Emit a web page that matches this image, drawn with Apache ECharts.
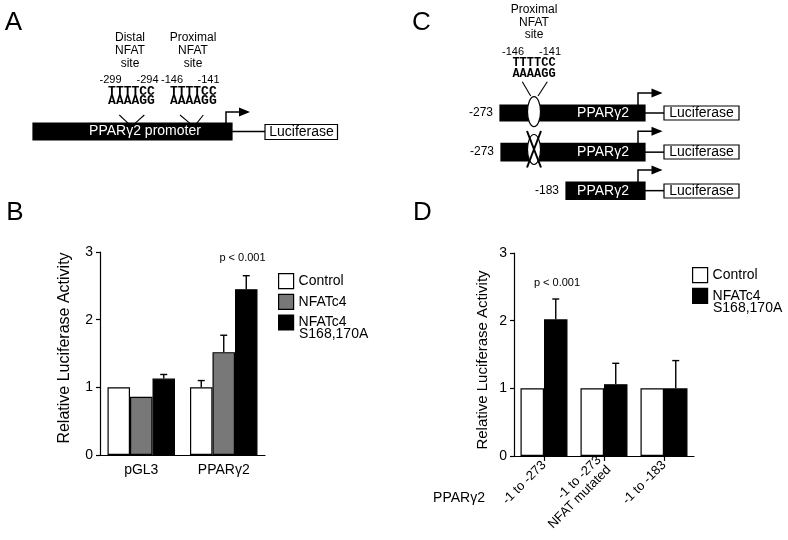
<!DOCTYPE html>
<html><head><meta charset="utf-8">
<script src="https://cdn.jsdelivr.net/npm/echarts@6/dist/echarts.min.js"></script>
<style>html,body{margin:0;padding:0;background:#fff}#c{width:788px;height:540px}</style>
</head><body><div id="c"></div>
<script>
// ---------- data: panel B ----------
const catsB = ['pGL3', 'PPARγ2'];
const controlB = [1.0, 1.0];
const nfatB = [0.86, 1.52];
const mutB = [1.13, 2.45];
const controlErrB = [null, 1.1];
const nfatErrB = [null, 1.77];
const mutErrB = [1.19, 2.65];
// ---------- data: panel D ----------
const catsD = ['-1 to -273', '-1 to -273\nNFAT mutated', '-1 to -183'];
const controlD = [1.0, 1.0, 1.0];
const mutD = [2.02, 1.06, 1.0];
const mutErrD = [2.32, 1.37, 1.41];
// ---------- labels ----------
const seriesNamesB = ['Control', 'NFATc4', 'NFATc4 S168,170A'];
const seriesNamesD = ['Control', 'NFATc4 S168,170A'];
const yTitle = 'Relative Luciferase Activity';
const pText = 'p < 0.001';
const panelLetters = ['A', 'B', 'C', 'D'];
const seqTop = 'TTTTCC', seqBottom = 'AAAAGG';
const siteLabelsA = ['Distal\nNFAT\nsite', 'Proximal\nNFAT\nsite'];
const posLabelsA = ['-299', '-294', '-146', '-141'];
const posLabelsC = ['-146', '-141'];
const constructStartsC = ['-273', '-273', '-183'];

const FONT = '"Liberation Sans", Arial, Helvetica, sans-serif';
const MONO = '"Liberation Mono", "Courier New", monospace';
const BLACK = '#000', GRAY = '#787878';

const chart = echarts.init(document.getElementById('c'), null, {renderer: 'canvas'});

function txt(x, y, text, size, opts) {
  opts = opts || {};
  return {type: 'text', x: x, y: y, rotation: opts.rotation || 0, z: 10,
    style: {text: text, fill: opts.fill || BLACK, fontSize: size, fontFamily: opts.family || FONT,
      fontWeight: opts.weight || 'normal', align: opts.align || 'center', verticalAlign: 'middle',
      lineHeight: opts.lineHeight || size}};
}
function ln(x1, y1, x2, y2, w) {
  return {type: 'line', z: 6, shape: {x1: x1, y1: y1, x2: x2, y2: y2}, style: {stroke: BLACK, lineWidth: w || 1.3}};
}
function rect(x, y, w, h, fill) {
  return {type: 'rect', z: 4, shape: {x: x, y: y, width: w, height: h},
    style: {fill: fill, stroke: BLACK, lineWidth: 1.2}};
}
function arrow(x, yBar, yTop, xEnd) {
  return [
    {type: 'polyline', z: 6, shape: {points: [[x, yBar], [x, yTop], [xEnd - 2, yTop]]}, style: {stroke: BLACK, lineWidth: 1.5, fill: null}},
    {type: 'polygon', z: 6, shape: {points: [[xEnd - 11, yTop - 4.5], [xEnd, yTop], [xEnd - 11, yTop + 4.5]]}, style: {fill: BLACK}}
  ];
}

const g = [];
// panel letters
g.push(txt(13.5, 22.5, panelLetters[0], 26));
g.push(txt(15, 212.5, panelLetters[1], 26));
g.push(txt(421.5, 22.5, panelLetters[2], 26));
g.push(txt(422.5, 213, panelLetters[3], 26));

// ---- Panel A ----
g.push(txt(130, 50.5, siteLabelsA[0], 12, {lineHeight: 13}));
g.push(txt(193, 50.5, siteLabelsA[1], 12, {lineHeight: 13}));
[110.5, 147.5, 172, 208.5].forEach((x, i) => g.push(txt(x, 80, posLabelsA[i], 11)));
g.push(txt(131.5, 96, seqTop + '\n' + seqBottom, 13, {family: MONO, weight: 'bold', lineHeight: 8.5}));
g.push(txt(193.3, 96, seqTop + '\n' + seqBottom, 13, {family: MONO, weight: 'bold', lineHeight: 8.5}));
g.push(ln(119.3, 115, 128.3, 123.3, 1.1), ln(144.3, 115, 135, 123.3, 1.1));
g.push(ln(180, 115, 190, 123.3, 1.1), ln(203.3, 115, 196.7, 123.3, 1.1));
g.push(rect(33, 123, 199, 17, BLACK));
g.push(txt(145, 131.5, 'PPARγ2 promoter', 14, {fill: '#fff'}));
g.push(...arrow(226, 123, 112, 250));
g.push(ln(232, 131.5, 265, 131.5, 1.5));
g.push(rect(265, 124.5, 72.5, 15, '#fff'));
g.push(txt(301.5, 132, 'Luciferase', 14));

// ---- Panel C ----
g.push(txt(534, 22.5, siteLabelsA[1], 12, {lineHeight: 12.5}));
g.push(txt(513, 51.7, posLabelsC[0], 11), txt(550, 51.7, posLabelsC[1], 11));
g.push(txt(534, 68.5, seqTop + '\n' + seqBottom, 12, {family: MONO, weight: 'bold', lineHeight: 10.5}));
g.push(ln(522.3, 81.7, 530.7, 96, 1.1), ln(547.3, 81.7, 538, 96, 1.1));
const rowsC = [
  {bx: 500, by: 105, bh: 16, ly: 106, lh: 14},
  {bx: 501, by: 143.3, bh: 17.7, ly: 145, lh: 14},
  {bx: 566, by: 182, bh: 17.3, ly: 184, lh: 14}
];
rowsC.forEach((r, i) => {
  const cy = r.by + r.bh / 2;
  g.push(rect(r.bx, r.by, 645 - r.bx, r.bh, BLACK));
  g.push(txt(r.bx - 19, cy, constructStartsC[i], 12));
  g.push(txt(603, cy, 'PPARγ2', 14, {fill: '#fff'}));
  g.push(...arrow(638, r.by, r.by - 12, 662.5));
  g.push(ln(645, cy, 664, cy, 1.5));
  g.push(rect(664, r.ly, 75, r.lh, '#fff'));
  g.push(txt(701.5, r.ly + r.lh / 2 + 0.5, 'Luciferase', 14));
});
g.push({type: 'ellipse', z: 7, shape: {cx: 534, cy: 111.7, rx: 6.5, ry: 15}, style: {fill: '#fff', stroke: BLACK, lineWidth: 1.2}});
g.push({type: 'ellipse', z: 7, shape: {cx: 534, cy: 149.5, rx: 6.5, ry: 15}, style: {fill: '#fff', stroke: BLACK, lineWidth: 1.2}});
const xl1 = ln(527, 131, 541, 167.5, 2), xl2 = ln(541, 131, 527, 167.5, 2);
xl1.z = 8; xl2.z = 8;
g.push(xl1, xl2);

// ---- chart texts ----
g.push(txt(65, 348, yTitle, 16, {rotation: Math.PI / 2}));
g.push(txt(483, 360, yTitle, 15, {rotation: Math.PI / 2}));
g.push(txt(242.5, 258, pText, 11));
g.push(txt(557, 283, pText, 11));
g.push(txt(299, 334, seriesNamesB[2].split(' ')[1], 14, {align: 'left'}));
g.push(txt(713, 308, seriesNamesD[1].split(' ')[1], 14, {align: 'left'}));
g.push(txt(459, 498, 'PPARγ2', 14));

// ---- error bars ----
function errData(vals, errs, si) {
  const out = [];
  vals.forEach((v, c) => { if (errs[c] != null) out.push([c, si, v, errs[c]]); });
  return out;
}
function errSeries(ai, n, barW, data) {
  return {type: 'custom', xAxisIndex: ai, yAxisIndex: ai, silent: true, z: 5,
    encode: {x: 0, y: [2, 3]}, data: data,
    renderItem: function (params, api) {
      const c = api.value(0), i = api.value(1), v = api.value(2), e = api.value(3);
      const p0 = api.coord([c, v]), p1 = api.coord([c, e]);
      const x = p0[0] + (i - (n - 1) / 2) * barW;
      return {type: 'group', children: [
        {type: 'line', shape: {x1: x, y1: p0[1], x2: x, y2: p1[1]}, style: {stroke: BLACK, lineWidth: 1.4}},
        {type: 'line', shape: {x1: x - 3.5, y1: p1[1], x2: x + 3.5, y2: p1[1]}, style: {stroke: BLACK, lineWidth: 1.4}}
      ]};
    }};
}
const BWB = 22.5, BWD = 23.5;
const errB = [].concat(errData(controlB, controlErrB, 0), errData(nfatB, nfatErrB, 1), errData(mutB, mutErrB, 2));
const errD = errData(mutD, mutErrD, 1);

function yAx(gi) {
  return {type: 'value', gridIndex: gi, min: 0, max: 3, interval: 1,
    axisLine: {show: true, lineStyle: {color: BLACK, width: 1.2}},
    axisTick: {show: true, length: 4, lineStyle: {color: BLACK, width: 1.2}},
    axisLabel: {color: BLACK, fontSize: 14, margin: 7, fontFamily: FONT},
    splitLine: {show: false}};
}
function barS(name, ai, data, color, bw) {
  return {type: 'bar', name: name, xAxisIndex: ai, yAxisIndex: ai, data: data, barWidth: bw, barGap: '0%',
    itemStyle: {color: color, borderColor: BLACK, borderWidth: 1.2}, silent: true};
}
const legendCommon = {orient: 'vertical', itemWidth: 15, itemHeight: 15, itemGap: 4.5, icon: 'rect', padding: 0,
  selectedMode: false, textStyle: {fontSize: 14, color: BLACK, fontFamily: FONT},
  itemStyle: {borderColor: BLACK, borderWidth: 1.2},
  formatter: function (n) { return n.split(' ')[0]; }};

chart.setOption({
  animation: false,
  backgroundColor: '#fff',
  textStyle: {fontFamily: FONT},
  grid: [
    {left: 100, top: 252, width: 165, height: 203},
    {left: 514, top: 253, width: 180, height: 203}
  ],
  xAxis: [
    {type: 'category', gridIndex: 0, data: catsB,
      axisLine: {lineStyle: {color: BLACK, width: 1.2}}, axisTick: {show: false},
      axisLabel: {color: BLACK, fontSize: 14, margin: 8, fontFamily: FONT}},
    {type: 'category', gridIndex: 1, data: catsD,
      axisLine: {lineStyle: {color: BLACK, width: 1.2}},
      axisTick: {show: true, alignWithLabel: true, length: 5, lineStyle: {color: BLACK, width: 1.2}},
      axisLabel: {color: BLACK, fontSize: 13, rotate: 45, margin: 7, fontFamily: FONT, lineHeight: 14}}
  ],
  yAxis: [yAx(0), yAx(1)],
  legend: [
    Object.assign({}, legendCommon, {data: seriesNamesB, left: 278, top: 273}),
    Object.assign({}, legendCommon, {data: seriesNamesD, left: 692, top: 267})
  ],
  series: [
    barS(seriesNamesB[0], 0, controlB, '#fff', BWB),
    barS(seriesNamesB[1], 0, nfatB, GRAY, BWB),
    barS(seriesNamesB[2], 0, mutB, BLACK, BWB),
    errSeries(0, 3, BWB, errB),
    barS(seriesNamesD[0], 1, controlD, '#fff', BWD),
    barS(seriesNamesD[1], 1, mutD, BLACK, BWD),
    errSeries(1, 2, BWD, errD)
  ],
  graphic: {elements: g}
});
</script></body></html>
